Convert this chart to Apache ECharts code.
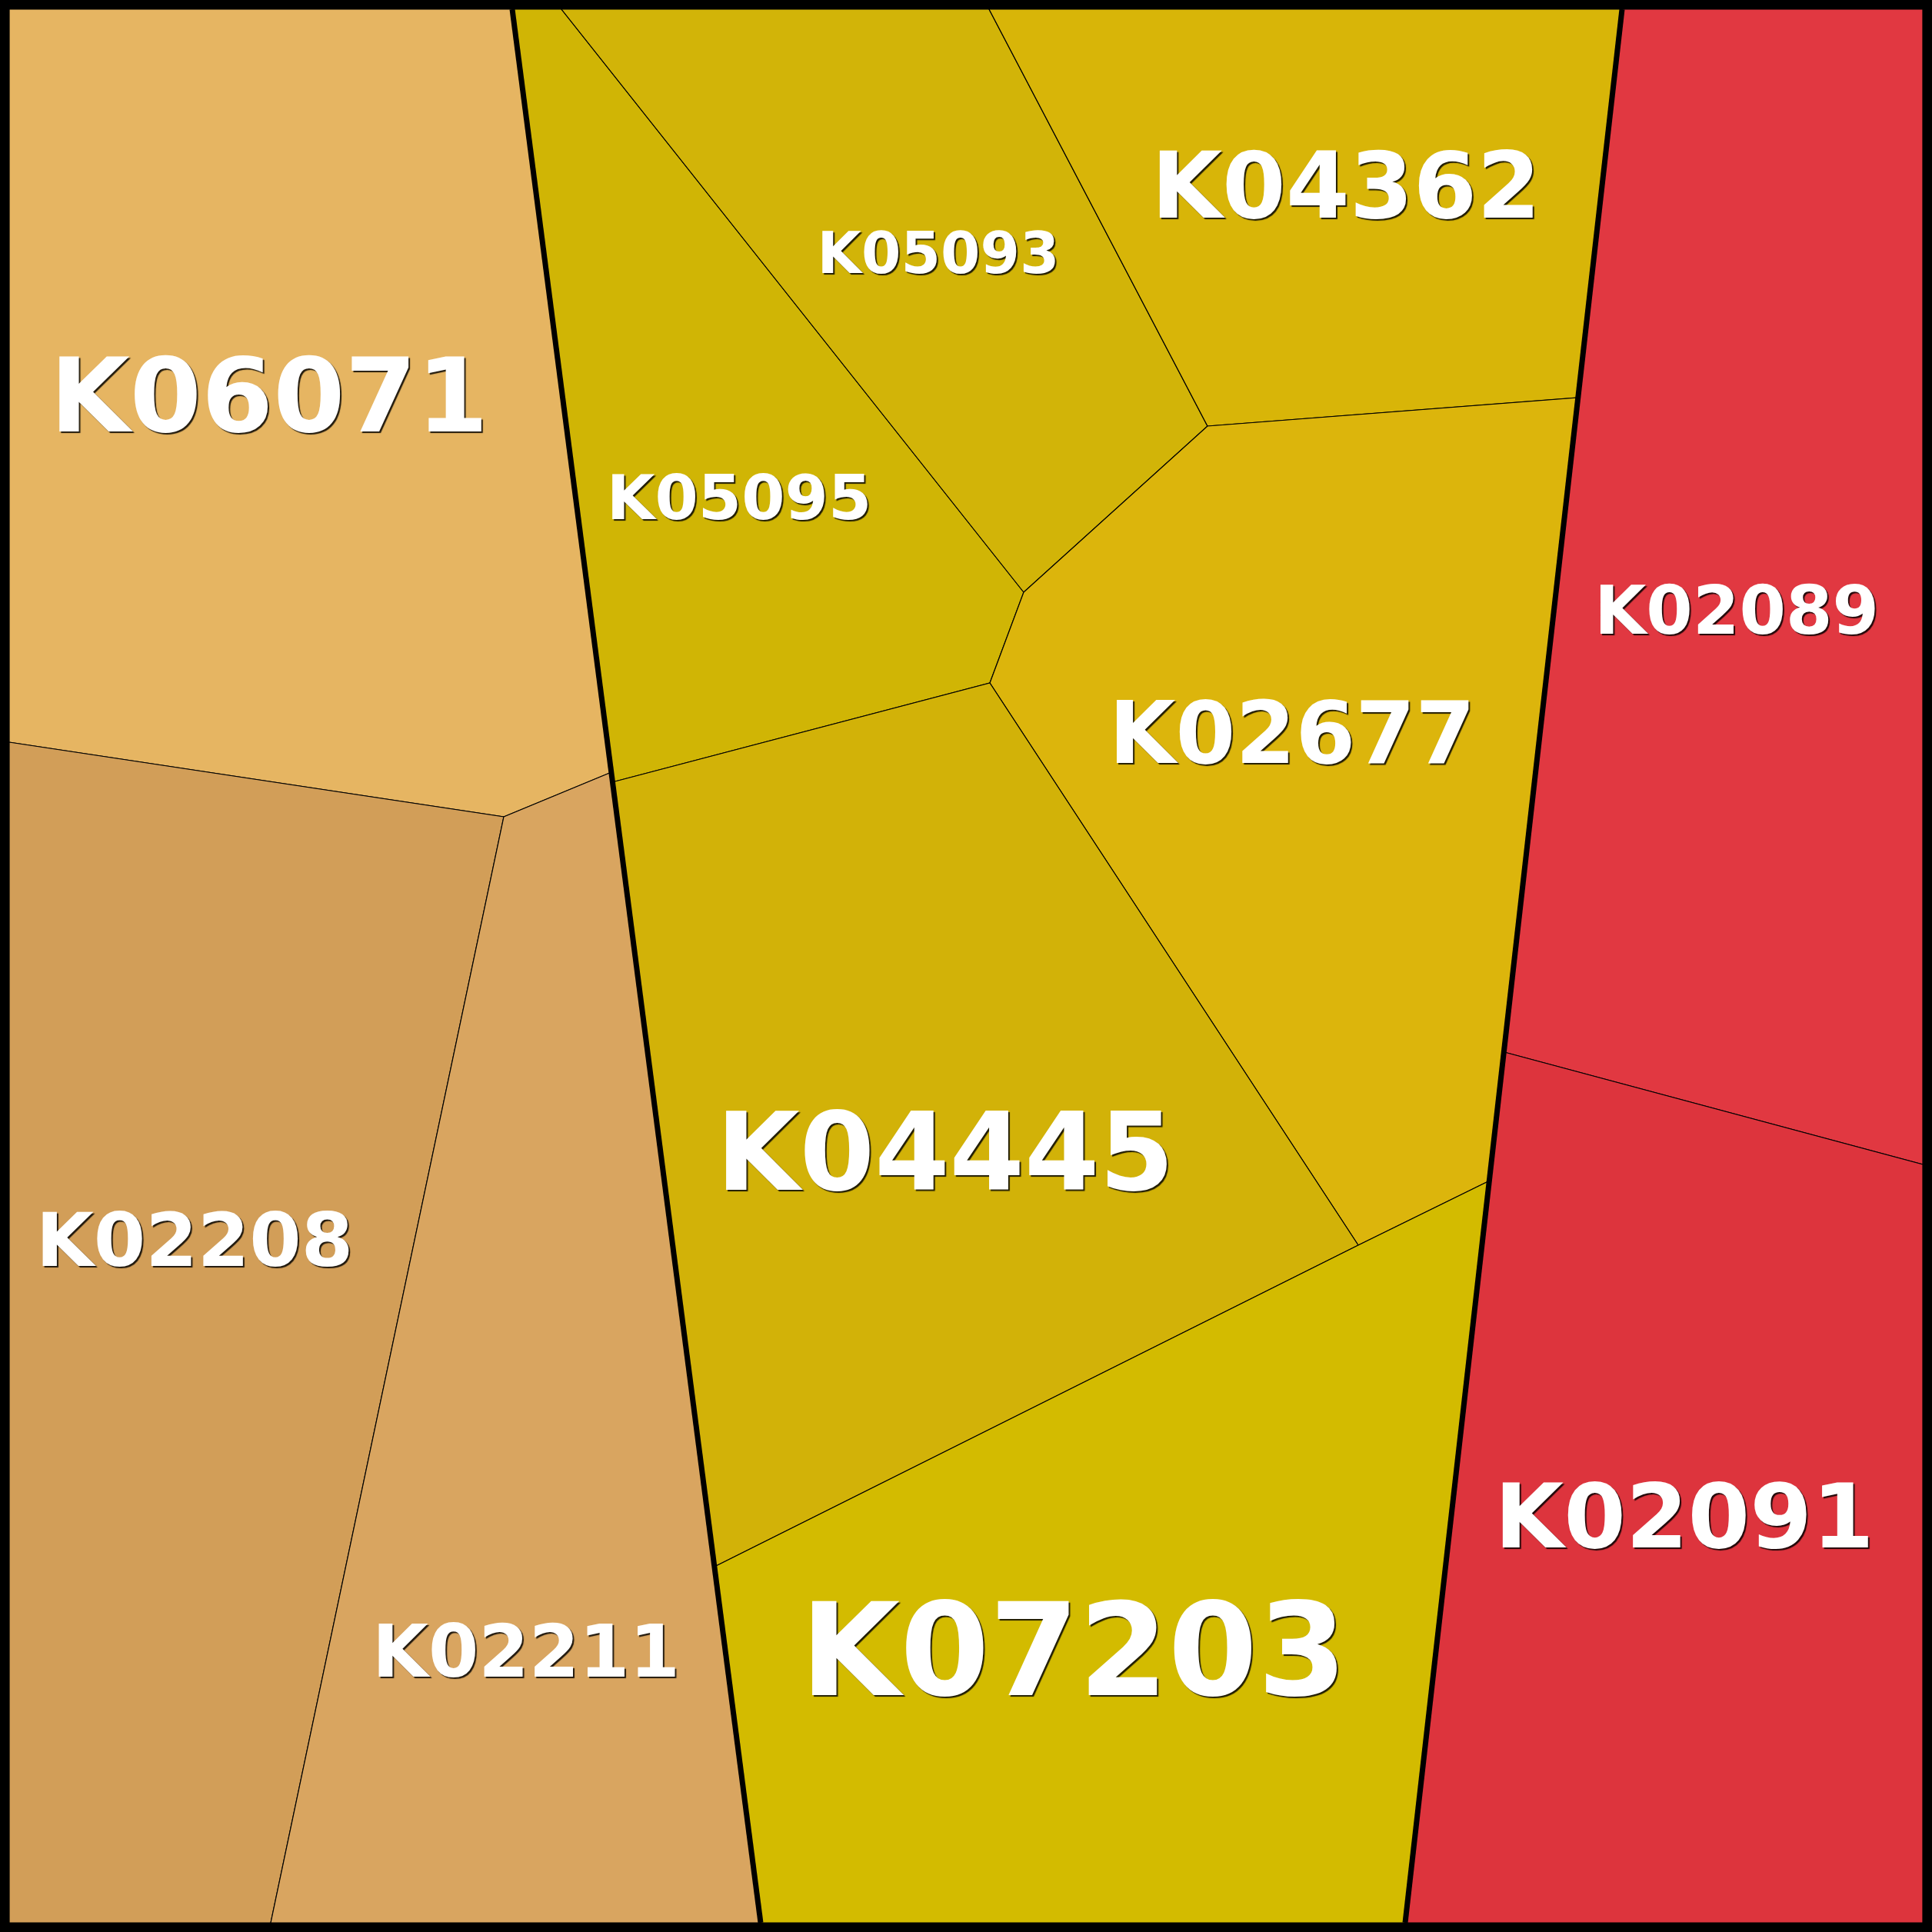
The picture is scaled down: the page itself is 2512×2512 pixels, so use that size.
<!DOCTYPE html>
<html>
<head>
<meta charset="utf-8">
<title>Voronoi treemap</title>
<script src="https://cdn.jsdelivr.net/npm/echarts@6/dist/echarts.min.js"></script>
<style>
html, body { margin: 0; padding: 0; background: #fff; }
#chart { width: 2512px; height: 2512px; }
</style>
</head>
<body>
<div id="chart"></div>
<script>
// cells of the voronoi treemap (plot units, y grows downwards)
const cellNames = ['K06071', 'K02208', 'K02211', 'K05095', 'K05093', 'K04362', 'K02677', 'K04445', 'K07203', 'K02089', 'K02091']
const cellPolygons = [
    [[12, 12], [666, 12], [795, 1004], [655, 1062], [12, 965]],
    [[12, 965], [655, 1062], [352, 2500], [12, 2500]],
    [[655, 1062], [795, 1004], [989, 2500], [352, 2500]],
    [[666, 12], [730, 12], [1331, 770], [1287, 888], [796, 1017]],
    [[730, 12], [1286, 12], [1570, 554], [1331, 770]],
    [[1286, 12], [2109, 12], [2052, 517], [1570, 554]],
    [[1570, 554], [2052, 517], [1935, 1536], [1766, 1619], [1287, 888], [1331, 770]],
    [[796, 1017], [1287, 888], [1766, 1619], [929, 2037]],
    [[929, 2037], [1766, 1619], [1935, 1536], [1827, 2500], [989, 2500]],
    [[2109, 12], [2500, 12], [2500, 1514], [1956, 1368]],
    [[1956, 1368], [2500, 1514], [2500, 2500], [1827, 2500]]
]
// label anchors (sites)
const cellSites = [
    [350, 511], [253, 1610], [684, 2145], [961, 645], [1220, 328], [1750, 239],
    [1680, 951], [1229, 1495], [1396, 2142], [2258, 792], [2190, 1969]
]
// top level borders between the three groups
const groupBorders = [
    [[666, 12], [989, 2500]],
    [[2109, 12], [1827, 2500]]
]

// styles
const cellColors = ['#E6B562', '#D29E58', '#D9A560', '#D0B505', '#D2B408', '#D8B508', '#DCB50C', '#D2B208', '#D3BB00', '#E13841', '#DD343D']
const labelSizes = [134, 97, 94, 81, 74, 119, 112, 140, 167, 87, 116]

const chart = echarts.init(document.getElementById('chart'))
const option = {
    animation: false,
    grid: {
        left: 6, right: 6, top: 6, bottom: 6,
        show: true, borderWidth: 12, borderColor: '#000', backgroundColor: 'transparent'
    },
    xAxis: { type: 'value', min: 6, max: 2506, show: false },
    yAxis: { type: 'value', min: 6, max: 2506, inverse: true, show: false },
    series: [{
        type: 'custom',
        data: cellSites.map((s, i) => [s[0], s[1], i]),
        renderItem: (params, api) => {
            const i = params.dataIndex
            const pts = cellPolygons[i].map(p => api.coord(p))
            const site = api.coord([api.value(0), api.value(1)])
            const size = labelSizes[i]
            return {
                type: 'group',
                children: [{
                    type: 'polygon',
                    shape: { points: pts },
                    style: { fill: cellColors[i], stroke: '#000', lineWidth: 1.2 }
                }, {
                    type: 'text',
                    x: site[0],
                    // centre the capitals, not the em box, on the site
                    y: site[1] + size * 0.11,
                    z2: 10,
                    style: {
                        text: cellNames[i],
                        fill: '#fff',
                        font: 'bold ' + size + 'px "DejaVu Sans"',
                        align: 'center',
                        verticalAlign: 'middle',
                        textShadowColor: 'rgba(0,0,0,0.85)',
                        textShadowBlur: 1,
                        textShadowOffsetX: 2,
                        textShadowOffsetY: 2
                    }
                }]
            }
        }
    }, {
        type: 'custom',
        data: groupBorders.map((b, i) => [b[0][0], b[0][1], i]),
        z: 3,
        renderItem: (params, api) => {
            const b = groupBorders[params.dataIndex]
            const p0 = api.coord(b[0])
            const p1 = api.coord(b[1])
            return {
                type: 'line',
                shape: { x1: p0[0], y1: p0[1], x2: p1[0], y2: p1[1] },
                style: { stroke: '#000', lineWidth: 7 }
            }
        }
    }]
}
chart.setOption(option)
</script>
</body>
</html>
